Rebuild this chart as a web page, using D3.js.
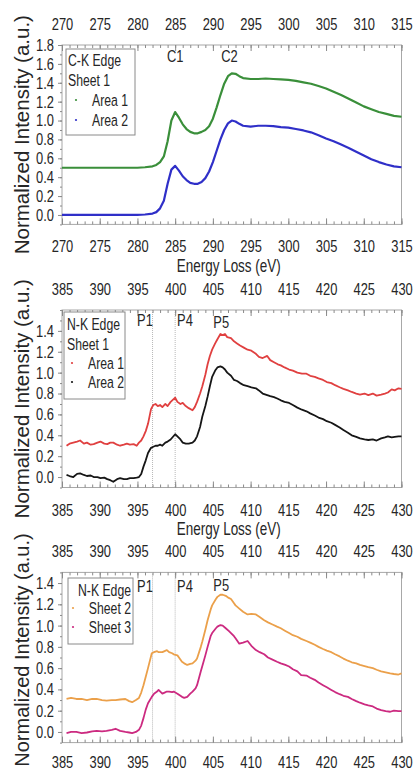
<!DOCTYPE html>
<html>
<head>
<meta charset="UTF-8"/>
<title>EELS spectra</title>
<script src="https://cdn.jsdelivr.net/npm/d3@7"></script>
<style>
body { margin: 0; background: #fff; }
text { font-family: "Liberation Sans", Arial, sans-serif; fill: #262626; }
</style>
</head>
<body>
<div id="chart"></div>
<script>
// C-K edge, sheet 1
var energyC = [270,272,274,276,278,280,281,282,282.5,283,283.5,284,284.5,285,285.5,286,286.5,287,287.5,288,288.5,289,289.5,290,290.5,291,291.5,292,292.5,293,293.5,294,295,296,297,298,299,300,301,302,303,304,305,306,307,308,309,310,311,312,313,314,315];
var cArea1 = [0.50,0.50,0.50,0.50,0.50,0.50,0.505,0.515,0.53,0.56,0.62,0.78,1.00,1.09,1.03,0.96,0.91,0.88,0.865,0.865,0.88,0.90,0.94,1.02,1.14,1.27,1.39,1.47,1.50,1.495,1.47,1.45,1.44,1.44,1.445,1.44,1.435,1.43,1.42,1.405,1.39,1.365,1.34,1.305,1.27,1.23,1.19,1.15,1.12,1.09,1.07,1.05,1.04];
var cArea2 = [0,0,0,0,0,0,0.005,0.015,0.03,0.07,0.15,0.33,0.48,0.52,0.47,0.41,0.37,0.34,0.33,0.33,0.35,0.39,0.46,0.56,0.68,0.80,0.90,0.97,1.00,0.99,0.965,0.945,0.935,0.945,0.945,0.94,0.93,0.925,0.91,0.895,0.875,0.845,0.81,0.78,0.745,0.71,0.67,0.63,0.59,0.56,0.535,0.515,0.505];

// N-K edge, sheet 1
var energyN1 = [385.6,386.0,386.5,387.0,387.4,387.9,388.3,388.8,389.2,389.7,390.1,390.6,391.0,391.4,391.8,392.3,392.7,393.2,393.6,394.0,394.5,394.9,395.2,395.5,395.8,396.1,396.4,396.8,397.1,397.4,397.7,398.0,398.3,398.7,399.0,399.4,400.0,400.3,400.7,401.0,401.4,401.8,402.3,402.6,402.9,403.3,403.6,404.0,404.3,404.6,404.9,405.3,405.6,406.0,406.3,406.6,406.9,407.4,407.8,408.2,408.6,409.1,409.6,410.1,410.7,411.1,411.6,412.2,412.6,413.1,413.6,414.0,414.5,415.1,415.6,416.2,416.8,417.4,417.9,418.5,419.0,419.6,420.1,420.7,421.2,421.8,422.3,422.9,423.4,424.0,424.5,425.1,425.6,426.2,426.7,427.3,427.8,428.2,428.7,429.1,429.6,430.0];
var nArea1 = [0.30,0.32,0.33,0.34,0.35,0.32,0.33,0.31,0.315,0.33,0.34,0.32,0.315,0.33,0.33,0.31,0.30,0.31,0.32,0.31,0.315,0.30,0.33,0.35,0.39,0.44,0.51,0.65,0.69,0.70,0.68,0.69,0.67,0.70,0.68,0.72,0.76,0.72,0.70,0.71,0.68,0.66,0.64,0.67,0.72,0.80,0.87,0.98,1.08,1.16,1.22,1.28,1.32,1.37,1.36,1.37,1.34,1.33,1.30,1.28,1.26,1.24,1.22,1.21,1.18,1.15,1.14,1.16,1.12,1.10,1.08,1.07,1.05,1.03,1.02,1.00,0.99,0.99,0.97,0.96,0.945,0.93,0.91,0.90,0.88,0.86,0.845,0.83,0.815,0.80,0.79,0.80,0.785,0.80,0.78,0.79,0.80,0.81,0.84,0.83,0.85,0.845];
var nArea2 = [0.02,0.01,0.00,0.03,0.035,0.02,0.01,0.015,0.0,0.0,-0.01,-0.005,-0.02,-0.03,-0.045,-0.02,-0.01,-0.02,-0.02,-0.01,-0.01,-0.005,0.0,0.03,0.10,0.16,0.23,0.28,0.29,0.30,0.30,0.31,0.30,0.33,0.34,0.36,0.41,0.39,0.36,0.33,0.32,0.32,0.33,0.35,0.39,0.48,0.58,0.68,0.77,0.87,0.96,1.02,1.05,1.06,1.05,1.03,1.00,0.97,0.93,0.92,0.90,0.88,0.87,0.86,0.85,0.83,0.80,0.785,0.775,0.765,0.75,0.735,0.72,0.71,0.69,0.665,0.645,0.63,0.61,0.59,0.57,0.555,0.535,0.52,0.50,0.475,0.45,0.425,0.40,0.385,0.37,0.36,0.355,0.36,0.35,0.37,0.38,0.39,0.38,0.385,0.39,0.39];

// N-K edge, sheets 2 and 3
var energyN2 = [385.6,386.2,386.9,387.6,388.3,389.0,389.6,390.3,390.9,391.6,392.1,392.7,393.4,393.9,394.3,394.8,395.2,395.5,395.8,396.1,396.4,396.9,397.2,397.6,397.8,398.3,398.6,398.9,399.2,399.6,399.8,400.3,400.5,400.9,401.2,401.6,402.0,402.3,402.7,402.9,403.4,403.6,404.0,404.3,404.7,404.9,405.4,405.6,406.0,406.3,406.7,407.1,407.4,407.8,408.0,408.5,409.0,409.6,410.1,410.7,411.2,411.8,412.3,412.9,413.5,414.0,414.6,415.1,415.6,416.2,416.7,417.4,417.9,418.5,419.0,419.6,420.1,420.7,421.2,421.8,422.3,422.9,423.4,424.0,424.5,425.1,425.6,426.2,426.7,427.3,427.9,428.5,429.0,429.6,430.0];
var nSheet2 = [0.31,0.32,0.31,0.31,0.30,0.31,0.31,0.30,0.295,0.30,0.30,0.305,0.31,0.29,0.28,0.30,0.32,0.37,0.44,0.52,0.60,0.74,0.75,0.76,0.75,0.75,0.76,0.77,0.75,0.74,0.73,0.72,0.70,0.66,0.645,0.63,0.64,0.645,0.67,0.69,0.80,0.85,0.96,1.05,1.15,1.19,1.25,1.27,1.29,1.29,1.28,1.26,1.25,1.21,1.19,1.16,1.13,1.105,1.11,1.105,1.08,1.05,1.03,1.01,0.99,0.975,0.95,0.93,0.91,0.895,0.875,0.855,0.84,0.82,0.80,0.78,0.765,0.75,0.73,0.71,0.69,0.67,0.655,0.645,0.63,0.62,0.61,0.60,0.585,0.57,0.56,0.55,0.545,0.54,0.55];
var nSheet3 = [-0.01,0.0,0.0,-0.01,-0.005,0.005,0.01,0.005,0.01,0.02,0.03,0.01,0.0,-0.005,-0.01,0.0,0.02,0.06,0.13,0.21,0.27,0.33,0.36,0.38,0.395,0.36,0.37,0.38,0.38,0.375,0.38,0.36,0.35,0.33,0.32,0.33,0.36,0.38,0.41,0.44,0.57,0.62,0.72,0.80,0.90,0.93,0.975,0.99,1.005,1.0,0.975,0.95,0.93,0.90,0.88,0.83,0.84,0.855,0.81,0.77,0.75,0.73,0.70,0.68,0.66,0.645,0.63,0.615,0.59,0.57,0.535,0.53,0.51,0.49,0.465,0.44,0.42,0.395,0.375,0.355,0.34,0.33,0.31,0.29,0.275,0.26,0.25,0.24,0.22,0.205,0.195,0.19,0.20,0.195,0.195];

// ticks and labels
var cTicks = [270,275,280,285,290,295,300,305,310,315];
var nTicks = [385,390,395,400,405,410,415,420,425,430];
var yTicksC = [0,0.2,0.4,0.6,0.8,1.0,1.2,1.4,1.6,1.8];
var yTicksN = [0,0.2,0.4,0.6,0.8,1.0,1.2,1.4];
var cPeakNames = ["C1","C2"];
var cPeakE = [285, 292.2];
var cPeakV = [1.68, 1.68];
var nPeakNames = ["P1","P4","P5"];
var nPeakE = [396.0, 401.3, 406.1];
var n1PeakV = [1.50, 1.50, 1.48];
var n2PeakV = [1.37, 1.37, 1.38];
var nMarkLines = [397, 400];

var svg = d3.select("#chart").append("svg")
    .attr("width", 414)
    .attr("height", 770);

var X0 = 62, X1 = 401.5;

function narrowText(g, str, x, y, anchor, size, sx) {
    return g.append("text")
        .attr("transform", "translate(" + x + "," + y + ") scale(" + sx + ",1)")
        .attr("text-anchor", anchor)
        .attr("dy", "0.35em")
        .style("font-size", size + "px")
        .text(str);
}

function panel(o) {
    var g = svg.append("g");
    var x = d3.scaleLinear().domain(o.xDomain).range([X0, X1]);
    var y = d3.scaleLinear().domain(o.yDomain).range([o.bottom, o.top]);
    var minorX = d3.range(o.xDomain[0], o.xDomain[1] + 0.5, 1);
    var minorY = d3.range(-0.1, o.yDomain[1] + 0.01, 0.1);

    // frame
    g.append("rect")
        .attr("x", X0).attr("y", o.top)
        .attr("width", X1 - X0).attr("height", o.bottom - o.top)
        .attr("fill", "none").attr("stroke", "#a8a8a8").attr("stroke-width", 1);

    // vertical marker lines
    (o.lines || []).forEach(function(e) {
        g.append("line")
            .attr("x1", x(e)).attr("x2", x(e))
            .attr("y1", o.top).attr("y2", o.bottom)
            .attr("stroke", "#b8b8b8").attr("stroke-width", 1)
            .attr("stroke-dasharray", "1,1");
    });

    // x axes: top and bottom, inward ticks
    var axes = [
        {gen: d3.axisTop, y: o.top, pad: 15},
        {gen: d3.axisBottom, y: o.bottom, pad: o.bottomPad || 16}
    ];
    axes.forEach(function(a) {
        var minor = g.append("g").attr("transform", "translate(0," + a.y + ")")
            .call(a.gen(x).tickValues(minorX).tickSize(-3).tickFormat(""));
        var major = g.append("g").attr("transform", "translate(0," + a.y + ")")
            .call(a.gen(x).tickValues(o.xTicks).tickSize(-6).tickPadding(a.pad).tickFormat(d3.format("d")));
        [minor, major].forEach(function(s) {
            s.select(".domain").remove();
            s.selectAll("line").attr("stroke", "#8a8a8a");
        });
        major.selectAll("text")
            .attr("transform", "scale(0.76,1)")
            .style("font-size", "17px")
            .attr("fill", "#262626");
    });

    // y axis, outward ticks
    var yMinor = g.append("g").attr("transform", "translate(" + X0 + ",0)")
        .call(d3.axisLeft(y).tickValues(minorY).tickSize(2).tickFormat(""));
    var yMajor = g.append("g").attr("transform", "translate(" + X0 + ",0)")
        .call(d3.axisLeft(y).tickValues(o.yTicks).tickSize(4).tickPadding(6.5).tickFormat(d3.format(".1f")));
    [yMinor, yMajor].forEach(function(s) {
        s.select(".domain").remove();
        s.selectAll("line").attr("stroke", "#8a8a8a");
    });
    yMajor.selectAll("text")
        .attr("transform", "scale(0.76,1)")
        .style("font-size", "17px")
        .attr("fill", "#262626");

    // series
    var line = d3.line()
        .x(function(d) { return x(d[0]); })
        .y(function(d) { return y(d[1]); });
    o.series.forEach(function(s) {
        g.append("path")
            .datum(d3.zip(s.e, s.v))
            .attr("d", line)
            .attr("fill", "none")
            .attr("stroke", s.color)
            .attr("stroke-width", s.width || 1.8)
            .attr("stroke-linejoin", "round");
    });

    // peak labels
    o.peaks.names.forEach(function(n, i) {
        narrowText(g, n, x(o.peaks.e[i]), y(o.peaks.v[i]), "middle", 17, 0.76);
    });

    // legend
    var L = o.legend;
    g.append("rect")
        .attr("x", L.x).attr("y", L.y).attr("width", L.w).attr("height", L.h)
        .attr("fill", "#fff").attr("stroke", "#8a8a8a").attr("stroke-width", 1);
    L.heads.forEach(function(t, i) {
        narrowText(g, t, L.headX, L.rows[i], L.anchor, 17, 0.72);
    });
    L.items.forEach(function(t, i) {
        var ry = L.rows[L.heads.length + i];
        g.append("circle").attr("cx", L.symX).attr("cy", ry).attr("r", 1.1)
            .attr("fill", o.series[i].color);
        narrowText(g, t, L.itemX, ry, L.anchor, 17, 0.72);
    });

    // axis titles
    if (o.xTitle) {
        narrowText(g, "Energy Loss (eV)", (X0 + X1) / 2 - 3, o.bottom + 41, "middle", 17.5, 0.77);
    }
    var ty = o.titleY || (o.top + o.bottom) / 2;
    g.append("text")
        .attr("transform", "translate(29," + ty + ") rotate(-90)")
        .attr("text-anchor", "middle")
        .style("font-size", (o.titleSize || 20.5) + "px")
        .text("Normalized Intensity (a.u.)");
}

panel({
    xDomain: [270, 315], yDomain: [-0.1, 1.8], top: 45, bottom: 224.4,
    xTicks: cTicks, yTicks: yTicksC, xTitle: true,
    series: [
        {e: energyC, v: cArea1, color: "#3a8f3a", width: 2.2},
        {e: energyC, v: cArea2, color: "#2f2fc8", width: 2.2}
    ],
    peaks: {names: cPeakNames, e: cPeakE, v: cPeakV},
    legend: {x: 66, y: 49, w: 69, h: 86, rows: [60, 80, 100, 120],
        heads: ["C-K Edge", "Sheet 1"], items: ["Area 1", "Area 2"],
        headX: 68, itemX: 92, symX: 76, anchor: "start"}
});

panel({
    xDomain: [385, 430], yDomain: [-0.1, 1.6], top: 310, bottom: 487.5,
    xTicks: nTicks, yTicks: yTicksN, lines: nMarkLines, xTitle: true,
    series: [
        {e: energyN1, v: nArea1, color: "#e04040"},
        {e: energyN1, v: nArea2, color: "#161616"}
    ],
    peaks: {names: nPeakNames, e: nPeakE, v: n1PeakV},
    legend: {x: 64, y: 312, w: 61, h: 87, rows: [324, 344, 363, 382],
        heads: ["N-K Edge", "Sheet 1"], items: ["Area 1", "Area 2"],
        headX: 67, itemX: 88, symX: 72, anchor: "start"}
});

panel({
    xDomain: [385, 430], yDomain: [-0.1, 1.5], top: 572.4, bottom: 742.6,
    xTicks: nTicks, yTicks: yTicksN, lines: nMarkLines, bottomPad: 13,
    titleY: 650, titleSize: 20,
    series: [
        {e: energyN2, v: nSheet2, color: "#eba04a"},
        {e: energyN2, v: nSheet3, color: "#cc2a80"}
    ],
    peaks: {names: nPeakNames, e: nPeakE, v: n2PeakV},
    legend: {x: 68, y: 578, w: 65, h: 66, rows: [590, 608, 627],
        heads: ["N-K Edge"], items: ["Sheet 2", "Sheet 3"],
        headX: 131, itemX: 131, symX: 73, anchor: "end"}
});
</script>
</body>
</html>
